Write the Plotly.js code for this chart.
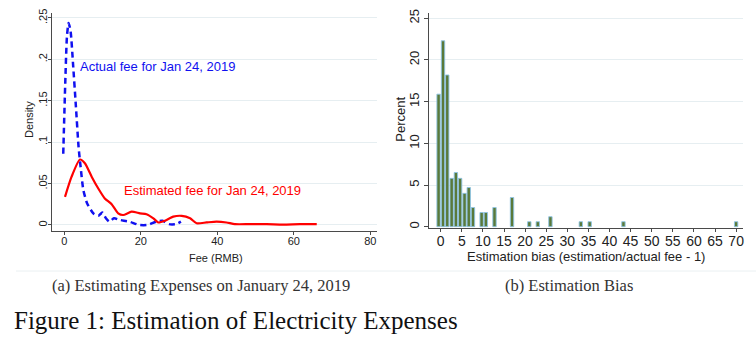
<!DOCTYPE html>
<html>
<head>
<meta charset="utf-8">
<script src="https://cdn.plot.ly/plotly-3.0.1.min.js"></script>
<style>html,body{margin:0;padding:0;background:#fff}#chart{width:756px;height:340px}</style>
</head>
<body>
<div id="chart"></div>
<script>
// Panel (a): kernel densities of fees (RMB)
var actualFee     = [-0.26, 0.26, 0.7, 1.14, 1.66, 2.35, 3.05, 3.75, 4.28, 5.0, 6.0, 7.6, 8.9, 9.95, 10.9, 11.8, 13.0, 14.6, 17.0, 19.6, 21.8, 24.0, 25.7, 27.4, 29.2, 30.5];
var actualDensity = [0.086, 0.171, 0.227, 0.244, 0.234, 0.191, 0.143, 0.094, 0.070, 0.042, 0.026, 0.014, 0.011, 0.015, 0.008, 0.004, 0.008, 0.006, 0.004, 0.000, 0.000, 0.004, 0.005, 0.001, 0.001, 0.004];

var estFee     = [0.2, 1.9, 4.1, 5.4, 7.2, 8.9, 10.6, 12.4, 14.1, 15.4, 17.6, 19.8, 21.5, 23.3, 24.6, 26.3, 28.5, 30.7, 32.9, 34.6, 37.2, 39.8, 42.4, 44.6, 48.5, 52.9, 57.2, 61.6, 66.0];
var estDensity = [0.034, 0.058, 0.079, 0.0745, 0.058, 0.044, 0.032, 0.025, 0.014, 0.012, 0.016, 0.014, 0.013, 0.008, 0.003, 0.005, 0.010, 0.011, 0.008, 0.002, 0.003, 0.004, 0.003, 0.001, 0.001, 0.001, 0.0005, 0.001, 0.001];

// Panel (b): histogram of estimation bias (bin centres, percent)
var biasBin     = [-0.5, 0.55, 1.55, 2.6, 3.6, 4.6, 5.65, 6.65, 7.65, 9.7, 10.7, 12.75, 16.9, 21.0, 23.0, 26.0, 33.2, 35.3, 43.3, 70.0];
var biasPercent = [15.9, 22.3, 18.2, 5.8, 6.5, 5.8, 4.0, 4.7, 2.3, 1.7, 1.7, 2.3, 3.5, 0.6, 0.6, 1.2, 0.6, 0.6, 0.6, 0.6];

var feeTicks = [0, 20, 40, 60, 80];
var densTicks = [0, 0.05, 0.1, 0.15, 0.2, 0.25];
var densTickText = ['0', '.05', '.1', '.15', '.2', '.25'];
var biasTicks = [0,5,10,15,20,25,30,35,40,45,50,55,60,65,70];
var pctTicks = [0,5,10,15,20,25];

var SANS = 'Liberation Sans, Arial, sans-serif';
var SERIF = 'Liberation Serif, Times New Roman, serif';
var AX = '#4a4a4a';
var GRID = '#e6eef1';

var traces = [
  {x: actualFee, y: actualDensity, type: 'scatter', mode: 'lines', line: {color: '#1010f0', width: 2.5, dash: '6px,4px', shape: 'spline', smoothing: 0.6}, xaxis: 'x', yaxis: 'y', hoverinfo: 'skip'},
  {x: estFee, y: estDensity, type: 'scatter', mode: 'lines', line: {color: '#ff0000', width: 2.2, shape: 'spline', smoothing: 0.6}, xaxis: 'x', yaxis: 'y', hoverinfo: 'skip'},
  {x: biasBin, y: biasPercent, type: 'bar', width: 0.8, marker: {color: '#5a7a3a', line: {color: '#8fc4e4', width: 0.9}}, xaxis: 'x2', yaxis: 'y2', hoverinfo: 'skip'}
];

var W = 756, H = 340;
function px(x){return x / W;}
function py(y){return 1 - y / H;}

var layout = {
  width: W, height: H,
  margin: {l: 0, r: 0, t: 0, b: 0},
  paper_bgcolor: '#fff', plot_bgcolor: '#fff',
  showlegend: false,
  font: {family: SANS, color: '#222'},
  xaxis: {domain: [px(52), px(377)], range: [-3.2, 81.75], anchor: 'y',
    showline: true, linecolor: AX, linewidth: 1, ticks: 'outside', ticklen: 3, tickcolor: AX, ticklabelstandoff: -3,
    tickvals: feeTicks, showgrid: false, zeroline: false, tickfont: {size: 11, family: SANS, color: '#222'}},
  yaxis: {domain: [py(231), py(13)], range: [-0.0073, 0.256], anchor: 'x',
    showline: true, linecolor: AX, linewidth: 1, ticks: 'outside', ticklen: 3, tickcolor: AX, ticklabelstandoff: -3,
    tickvals: densTicks, ticktext: densTickText, tickangle: -90,
    showgrid: true, gridcolor: GRID, gridwidth: 1, zeroline: false, tickfont: {size: 11, family: SANS, color: '#222'}},
  xaxis2: {domain: [px(429.3), px(743.3)], range: [-2.7, 71.7], anchor: 'y2',
    showline: true, linecolor: AX, linewidth: 1, ticks: 'outside', ticklen: 3, tickcolor: AX, ticklabelstandoff: -3,
    tickvals: biasTicks, showgrid: false, zeroline: false, tickfont: {size: 14, family: SANS, color: '#222'}},
  yaxis2: {domain: [py(227.7), py(13.3)], range: [-0.12, 25.6], anchor: 'x2',
    showline: true, linecolor: AX, linewidth: 1, ticks: 'outside', ticklen: 4, tickcolor: AX,
    tickvals: pctTicks, tickangle: -90,
    showgrid: true, gridcolor: GRID, gridwidth: 1, zeroline: false, tickfont: {size: 13, family: SANS, color: '#222'}},
  shapes: [
    {type: 'line', xref: 'paper', yref: 'paper', x0: px(16), x1: 1, y0: py(271), y1: py(271), line: {color: '#eaf0f2', width: 1}}
  ],
  annotations: [
    {text: 'Actual fee for Jan 24, 2019', xref: 'paper', yref: 'paper', x: px(78), y: py(66.7), xanchor: 'left', yanchor: 'middle', showarrow: false, font: {size: 13, family: SANS, color: '#1010f0'}},
    {text: 'Estimated fee for Jan 24, 2019', xref: 'paper', yref: 'paper', x: px(121.5), y: py(190), xanchor: 'left', yanchor: 'middle', showarrow: false, font: {size: 13, family: SANS, color: '#ff0000'}},
    {text: 'Density', xref: 'paper', yref: 'paper', x: px(29), y: py(120), textangle: -90, xanchor: 'center', yanchor: 'middle', showarrow: false, font: {size: 11, family: SANS, color: '#222'}},
    {text: 'Fee (RMB)', xref: 'paper', yref: 'paper', x: px(216.3), y: py(258.3), xanchor: 'center', yanchor: 'middle', showarrow: false, font: {size: 11, family: SANS, color: '#222'}},
    {text: 'Percent', xref: 'paper', yref: 'paper', x: px(400.7), y: py(119), textangle: -90, xanchor: 'center', yanchor: 'middle', showarrow: false, font: {size: 13, family: SANS, color: '#222'}},
    {text: 'Estimation bias (estimation/actual fee - 1)', xref: 'paper', yref: 'paper', x: px(586), y: py(256), xanchor: 'center', yanchor: 'middle', showarrow: false, font: {size: 13, family: SANS, color: '#222'}},
    {text: '(a) Estimating Expenses on January 24, 2019', xref: 'paper', yref: 'paper', x: px(201), y: py(285.7), xanchor: 'center', yanchor: 'middle', showarrow: false, font: {size: 16.5, family: SERIF, color: '#333'}},
    {text: '(b) Estimation Bias', xref: 'paper', yref: 'paper', x: px(569), y: py(285.7), xanchor: 'center', yanchor: 'middle', showarrow: false, font: {size: 16.5, family: SERIF, color: '#333'}},
    {text: 'Figure 1: Estimation of Electricity Expenses', xref: 'paper', yref: 'paper', x: px(11.7), y: py(320), xanchor: 'left', yanchor: 'middle', showarrow: false, font: {size: 25, family: SERIF, color: '#111'}}
  ]
};

Plotly.newPlot('chart', traces, layout, {staticPlot: true, displayModeBar: false});
</script>
</body>
</html>
